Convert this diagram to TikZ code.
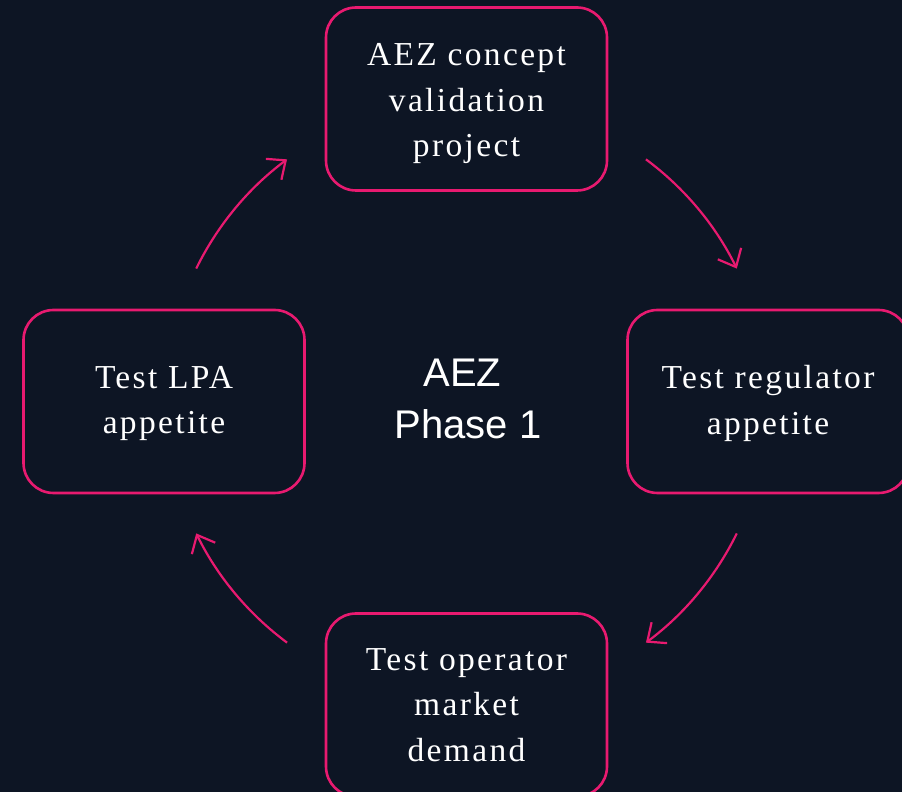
\documentclass[tikz,border=0pt]{standalone}
\usepackage{fontspec}
\setmainfont{Liberation Serif}
\newfontfamily\boxfont[LetterSpace=7]{Liberation Serif}
\newfontfamily\centerfont{Liberation Sans}
\usetikzlibrary{arrows.meta}
\definecolor{bgnavy}{RGB}{13,21,36}
\definecolor{hotpink}{RGB}{232,26,112}
\begin{document}
\begin{tikzpicture}[x=1pt,y=1pt,
  stagebox/.style={draw=hotpink, line width=2.6pt, rounded corners=30pt,
    minimum width=281pt, minimum height=183pt, inner sep=0pt},
  boxtext/.style={align=center, text=white, inner sep=0pt,
    font=\boxfont\fontsize{33.5}{45.5}\selectfont},
  cyclearrow/.style={draw=hotpink, line width=2.2pt,
    -{Straight Barb[length=15pt,width=26pt,line width=2.2pt]}},
  centerlabel/.style={text=white, align=center, inner sep=0pt,
    font=\centerfont\fontsize{40}{52}\selectfont}]
\fill[bgnavy] (0,0) rectangle (902,792);
\useasboundingbox (0,0) rectangle (902,792);
\node[stagebox] (top) at (466.5,693) {};
\node[stagebox] (right) at (768,390.5) {};
\node[stagebox] (left) at (164,390.5) {};
\node[stagebox] (bottom) at (466.5,87) {};
\node[boxtext] (toptext) at ([yshift=-5pt]top.center) {AEZ concept\\validation\\project};
\node[boxtext] (righttext) at ([yshift=-2pt]right.center) {Test regulator\\appetite};
\node[boxtext] (lefttext) at ([yshift=-2pt]left.center) {Test LPA\\appetite};
\node[boxtext] (bottomtext) at (bottom.center) {Test operator\\market\\demand};
\node[centerlabel] (mid) at (468,393) {AEZ\hspace*{0.28em}\\Phase 1};
\coordinate (c) at (466.5,391);
\draw[cyclearrow] ([shift={(53.4:301)}]c) arc[start angle=53.4, end angle=26.1, radius=301];
\draw[cyclearrow] ([shift={(-26.1:301)}]c) arc[start angle=-26.1, end angle=-53.4, radius=301];
\draw[cyclearrow] ([shift={(-126.6:301)}]c) arc[start angle=-126.6, end angle=-153.9, radius=301];
\draw[cyclearrow] ([shift={(153.9:301)}]c) arc[start angle=153.9, end angle=126.6, radius=301];
\end{tikzpicture}
\end{document}
